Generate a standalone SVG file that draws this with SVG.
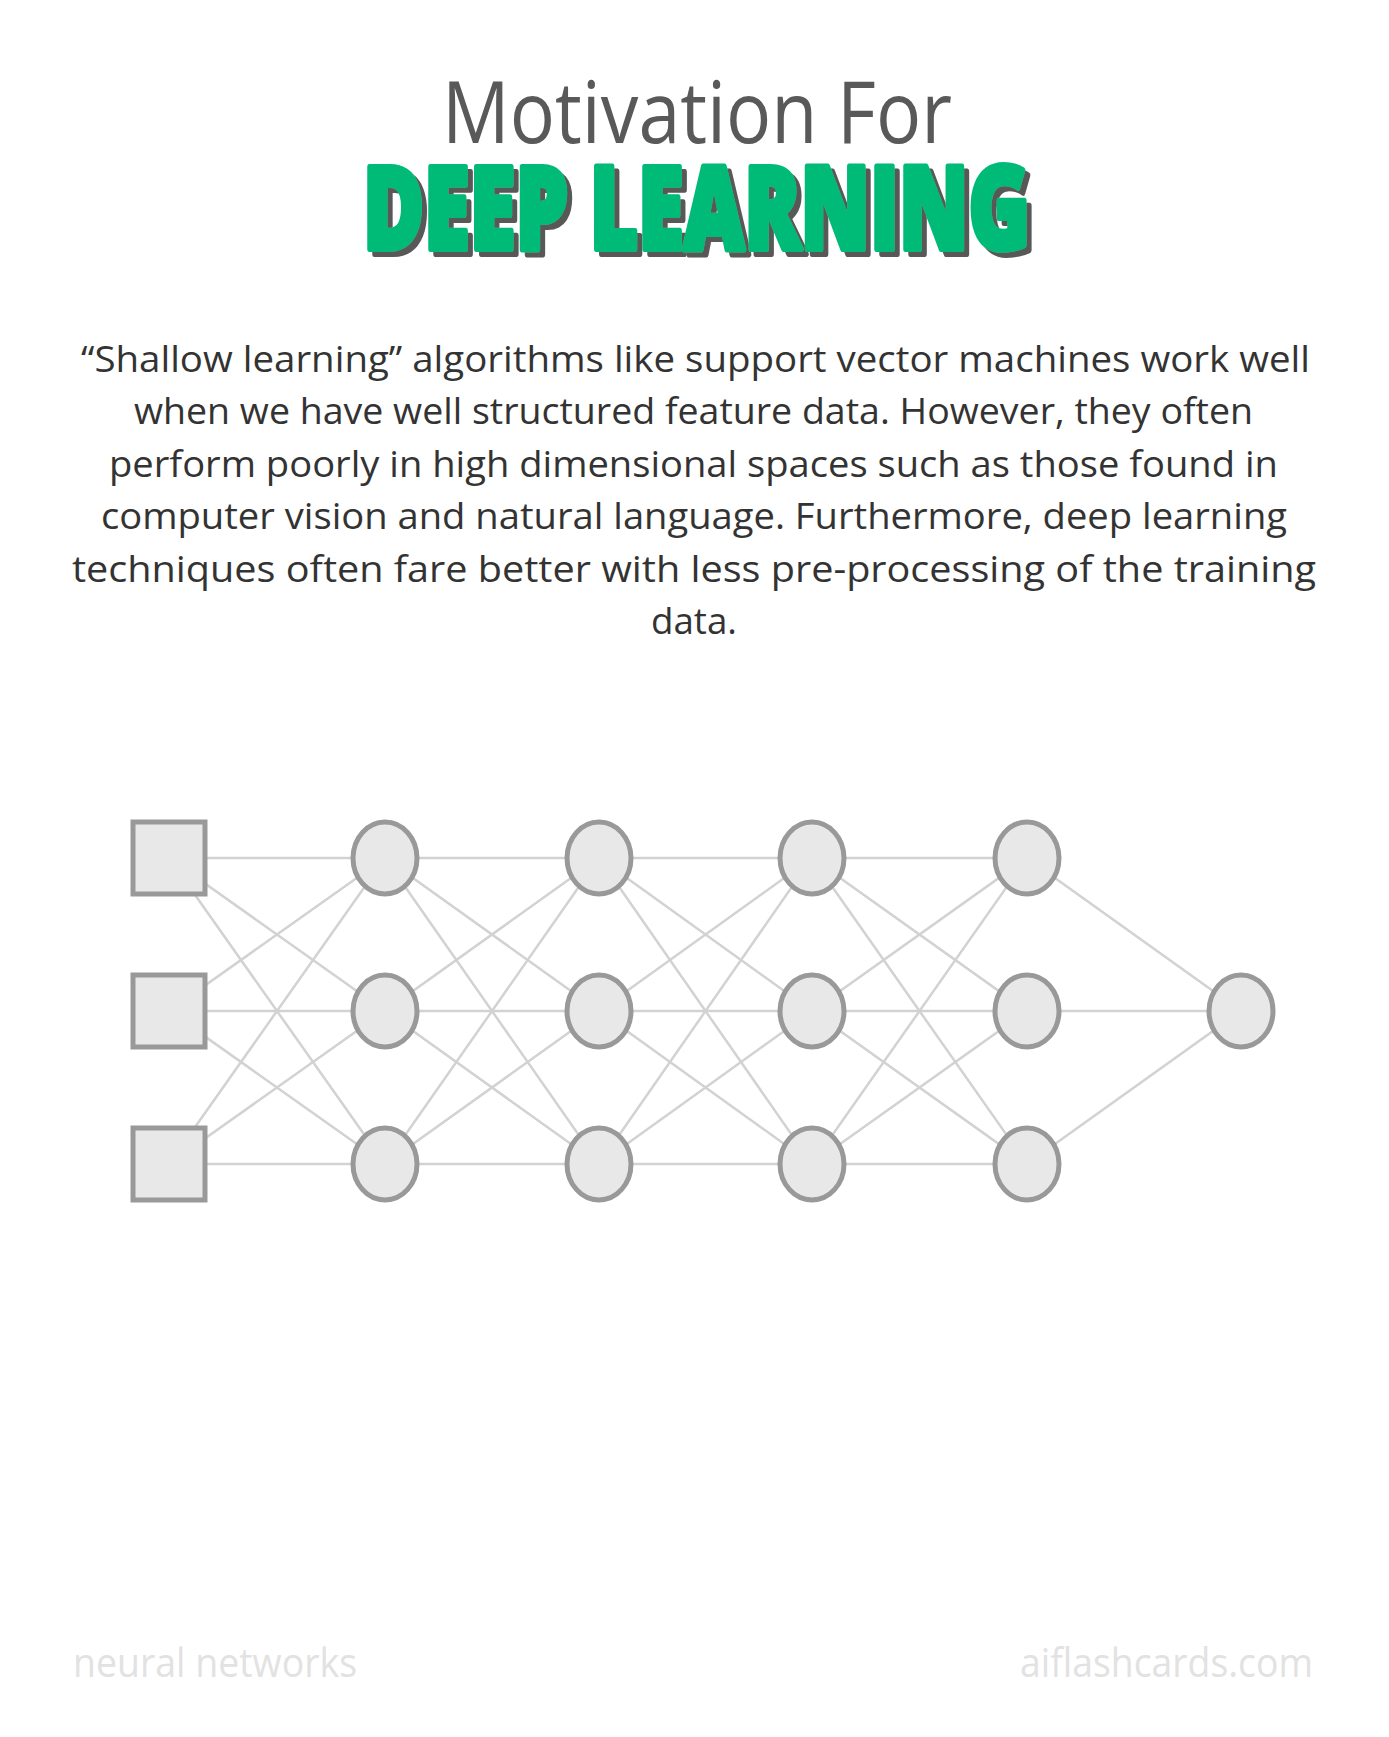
<svg xmlns="http://www.w3.org/2000/svg" width="1389" height="1737" viewBox="0 0 1389 1737">
  <style>
    .title { font-family: "Open Sans", "Lato", sans-serif; fill: #595959; }
    .headline { font-family: "Open Sans", "Lato", sans-serif; font-weight: 800; stroke-linejoin: round; fill: #00bb78; stroke: #00bb78; stroke-width: 6; }
    .body { font-family: "Open Sans", "Lato", sans-serif; font-size: 37px; fill: #333333; }
    .foot { font-family: "Open Sans", "Lato", sans-serif; font-size: 40px; fill: #e2e2e2; }
    .edge { stroke: #d2d2d2; stroke-width: 2.5; fill: none; }
    .unit { fill: #e8e8e8; stroke: #999999; stroke-width: 5; }
  </style>
  <defs>
    <!-- hard grey offset shadow behind the headline -->
    <filter id="hardShadow" x="-5%" y="-20%" width="110%" height="140%">
      <feFlood flood-color="#595959" result="ink"/>
      <feComposite in="ink" in2="SourceAlpha" operator="in" result="shape"/>
      <feOffset in="shape" dx="5" dy="5" result="shifted"/>
      <feMerge>
        <feMergeNode in="shifted"/>
        <feMergeNode in="SourceGraphic"/>
      </feMerge>
    </filter>
  </defs>
  <rect width="1389" height="1737" fill="#ffffff"/>

  <!-- heading -->
  <g id="heading">
    <text class="title" x="442" y="143" font-size="86" textLength="510" lengthAdjust="spacingAndGlyphs">Motivation For</text>
    <text class="headline" x="363" y="249" font-size="116" textLength="667" lengthAdjust="spacingAndGlyphs" filter="url(#hardShadow)">DEEP LEARNING</text>
  </g>

  <!-- description -->
  <g id="description">
    <text class="body" x="81" y="372" textLength="1229" lengthAdjust="spacingAndGlyphs">“Shallow learning” algorithms like support vector machines work well</text>
    <text class="body" x="134" y="424" textLength="1119" lengthAdjust="spacingAndGlyphs">when we have well structured feature data. However, they often</text>
    <text class="body" x="109" y="477" textLength="1169" lengthAdjust="spacingAndGlyphs">perform poorly in high dimensional spaces such as those found in</text>
    <text class="body" x="101" y="529" textLength="1186" lengthAdjust="spacingAndGlyphs">computer vision and natural language. Furthermore, deep learning</text>
    <text class="body" x="72" y="582" textLength="1244" lengthAdjust="spacingAndGlyphs">techniques often fare better with less pre-processing of the training</text>
    <text class="body" x="651" y="634" textLength="86" lengthAdjust="spacingAndGlyphs">data.</text>
  </g>

  <!-- connections between layers -->
  <g id="connectors">
    <!-- input -> hidden 1 -->
    <line class="edge" x1="169" y1="858" x2="385" y2="858"/>
    <line class="edge" x1="169" y1="858" x2="385" y2="1011"/>
    <line class="edge" x1="169" y1="858" x2="385" y2="1164"/>
    <line class="edge" x1="169" y1="1011" x2="385" y2="858"/>
    <line class="edge" x1="169" y1="1011" x2="385" y2="1011"/>
    <line class="edge" x1="169" y1="1011" x2="385" y2="1164"/>
    <line class="edge" x1="169" y1="1164" x2="385" y2="858"/>
    <line class="edge" x1="169" y1="1164" x2="385" y2="1011"/>
    <line class="edge" x1="169" y1="1164" x2="385" y2="1164"/>
    <!-- hidden 1 -> hidden 2 -->
    <line class="edge" x1="385" y1="858" x2="599" y2="858"/>
    <line class="edge" x1="385" y1="858" x2="599" y2="1011"/>
    <line class="edge" x1="385" y1="858" x2="599" y2="1164"/>
    <line class="edge" x1="385" y1="1011" x2="599" y2="858"/>
    <line class="edge" x1="385" y1="1011" x2="599" y2="1011"/>
    <line class="edge" x1="385" y1="1011" x2="599" y2="1164"/>
    <line class="edge" x1="385" y1="1164" x2="599" y2="858"/>
    <line class="edge" x1="385" y1="1164" x2="599" y2="1011"/>
    <line class="edge" x1="385" y1="1164" x2="599" y2="1164"/>
    <!-- hidden 2 -> hidden 3 -->
    <line class="edge" x1="599" y1="858" x2="812" y2="858"/>
    <line class="edge" x1="599" y1="858" x2="812" y2="1011"/>
    <line class="edge" x1="599" y1="858" x2="812" y2="1164"/>
    <line class="edge" x1="599" y1="1011" x2="812" y2="858"/>
    <line class="edge" x1="599" y1="1011" x2="812" y2="1011"/>
    <line class="edge" x1="599" y1="1011" x2="812" y2="1164"/>
    <line class="edge" x1="599" y1="1164" x2="812" y2="858"/>
    <line class="edge" x1="599" y1="1164" x2="812" y2="1011"/>
    <line class="edge" x1="599" y1="1164" x2="812" y2="1164"/>
    <!-- hidden 3 -> hidden 4 -->
    <line class="edge" x1="812" y1="858" x2="1027" y2="858"/>
    <line class="edge" x1="812" y1="858" x2="1027" y2="1011"/>
    <line class="edge" x1="812" y1="858" x2="1027" y2="1164"/>
    <line class="edge" x1="812" y1="1011" x2="1027" y2="858"/>
    <line class="edge" x1="812" y1="1011" x2="1027" y2="1011"/>
    <line class="edge" x1="812" y1="1011" x2="1027" y2="1164"/>
    <line class="edge" x1="812" y1="1164" x2="1027" y2="858"/>
    <line class="edge" x1="812" y1="1164" x2="1027" y2="1011"/>
    <line class="edge" x1="812" y1="1164" x2="1027" y2="1164"/>
    <!-- hidden 4 -> output -->
    <line class="edge" x1="1027" y1="858" x2="1241" y2="1011"/>
    <line class="edge" x1="1027" y1="1011" x2="1241" y2="1011"/>
    <line class="edge" x1="1027" y1="1164" x2="1241" y2="1011"/>
  </g>

  <!-- input units -->
  <g id="in-1"><rect class="unit" x="133" y="822" width="72" height="72"/></g>
  <g id="in-2"><rect class="unit" x="133" y="975" width="72" height="72"/></g>
  <g id="in-3"><rect class="unit" x="133" y="1128" width="72" height="72"/></g>

  <!-- hidden layer 1 -->
  <g id="h1-1"><ellipse class="unit" cx="385" cy="858" rx="32" ry="36"/></g>
  <g id="h1-2"><ellipse class="unit" cx="385" cy="1011" rx="32" ry="36"/></g>
  <g id="h1-3"><ellipse class="unit" cx="385" cy="1164" rx="32" ry="36"/></g>

  <!-- hidden layer 2 -->
  <g id="h2-1"><ellipse class="unit" cx="599" cy="858" rx="32" ry="36"/></g>
  <g id="h2-2"><ellipse class="unit" cx="599" cy="1011" rx="32" ry="36"/></g>
  <g id="h2-3"><ellipse class="unit" cx="599" cy="1164" rx="32" ry="36"/></g>

  <!-- hidden layer 3 -->
  <g id="h3-1"><ellipse class="unit" cx="812" cy="858" rx="32" ry="36"/></g>
  <g id="h3-2"><ellipse class="unit" cx="812" cy="1011" rx="32" ry="36"/></g>
  <g id="h3-3"><ellipse class="unit" cx="812" cy="1164" rx="32" ry="36"/></g>

  <!-- hidden layer 4 -->
  <g id="h4-1"><ellipse class="unit" cx="1027" cy="858" rx="32" ry="36"/></g>
  <g id="h4-2"><ellipse class="unit" cx="1027" cy="1011" rx="32" ry="36"/></g>
  <g id="h4-3"><ellipse class="unit" cx="1027" cy="1164" rx="32" ry="36"/></g>

  <!-- output unit -->
  <g id="out"><ellipse class="unit" cx="1241" cy="1011" rx="32" ry="36"/></g>

  <!-- footer -->
  <g id="footer">
    <text class="foot" x="73" y="1677" textLength="284" lengthAdjust="spacingAndGlyphs">neural networks</text>
    <text class="foot" x="1020" y="1677" textLength="293" lengthAdjust="spacingAndGlyphs">aiflashcards.com</text>
  </g>
</svg>
